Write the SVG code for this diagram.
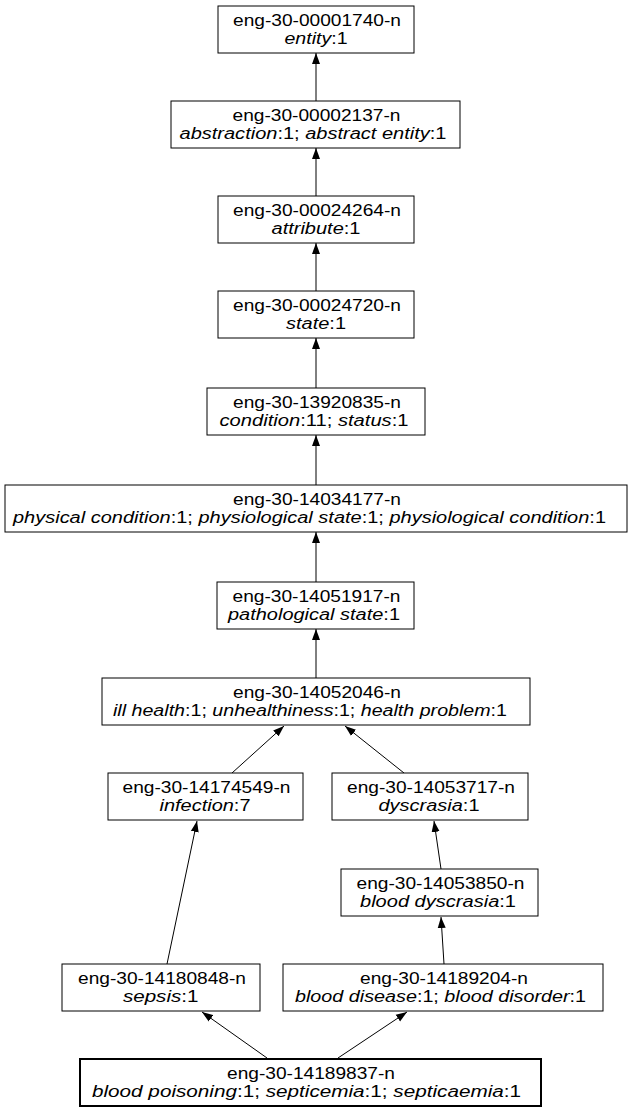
<svg xmlns="http://www.w3.org/2000/svg" width="632" height="1115" viewBox="0 0 632 1115">
<defs>
<style>
.b{fill:#fff;stroke:#000;stroke-width:1}
.bb{fill:#fff;stroke:#000;stroke-width:2}
text{font-family:"Liberation Sans",Arial,sans-serif;font-size:16px;fill:#000;text-anchor:middle}
.i{font-style:italic}
.e{stroke:#000;stroke-width:1;fill:none;marker-end:url(#ah)}
</style>
<marker id="ah" markerUnits="userSpaceOnUse" markerWidth="11" markerHeight="9" refX="11" refY="4" orient="auto" viewBox="0 0 11 8">
<path d="M0,0 L11,4 L0,8 z" fill="#000"/>
</marker>
</defs>
<rect width="632" height="1115" fill="#fff"/>
<g id="edges">
<line class="e" x1="316" y1="101" x2="316" y2="53"/>
<line class="e" x1="316" y1="196" x2="316" y2="148"/>
<line class="e" x1="316" y1="291" x2="316" y2="243"/>
<line class="e" x1="316" y1="388" x2="316" y2="338"/>
<line class="e" x1="316" y1="485" x2="316" y2="435"/>
<line class="e" x1="316" y1="582" x2="316" y2="532"/>
<line class="e" x1="316" y1="678" x2="316" y2="629"/>
<line class="e" x1="232" y1="773" x2="284" y2="726"/>
<line class="e" x1="404" y1="773" x2="345" y2="726"/>
<line class="e" x1="441" y1="869" x2="434" y2="821"/>
<line class="e" x1="167" y1="964" x2="197" y2="821"/>
<line class="e" x1="444" y1="964" x2="441" y2="917"/>
<line class="e" x1="267" y1="1058" x2="202" y2="1012"/>
<line class="e" x1="338" y1="1058" x2="407" y2="1012"/>
</g>
<g id="n1"><rect class="b" x="218" y="6" width="196" height="47"/><text x="317" y="25.5" textLength="168" lengthAdjust="spacingAndGlyphs">eng-30-00001740-n</text><text x="316" y="43.5" textLength="63" lengthAdjust="spacingAndGlyphs"><tspan class="i">entity</tspan>:1</text></g>
<g id="n2"><rect class="b" x="171" y="101" width="289" height="47"/><text x="316.5" y="120.5" textLength="168" lengthAdjust="spacingAndGlyphs">eng-30-00002137-n</text><text x="313" y="138.5" textLength="267" lengthAdjust="spacingAndGlyphs"><tspan class="i">abstraction</tspan>:1; <tspan class="i">abstract entity</tspan>:1</text></g>
<g id="n3"><rect class="b" x="218" y="196" width="196" height="47"/><text x="317" y="215.5" textLength="168" lengthAdjust="spacingAndGlyphs">eng-30-00024264-n</text><text x="316" y="233.5" textLength="89" lengthAdjust="spacingAndGlyphs"><tspan class="i">attribute</tspan>:1</text></g>
<g id="n4"><rect class="b" x="218" y="291" width="196" height="47"/><text x="317" y="310.5" textLength="168" lengthAdjust="spacingAndGlyphs">eng-30-00024720-n</text><text x="316" y="328.5" textLength="60" lengthAdjust="spacingAndGlyphs"><tspan class="i">state</tspan>:1</text></g>
<g id="n5"><rect class="b" x="207" y="388" width="218" height="47"/><text x="317" y="407.5" textLength="168" lengthAdjust="spacingAndGlyphs">eng-30-13920835-n</text><text x="314" y="425.5" textLength="189" lengthAdjust="spacingAndGlyphs"><tspan class="i">condition</tspan>:11; <tspan class="i">status</tspan>:1</text></g>
<g id="n6"><rect class="b" x="5" y="485" width="622" height="47"/><text x="317" y="504.5" textLength="168" lengthAdjust="spacingAndGlyphs">eng-30-14034177-n</text><text x="309.5" y="522.5" textLength="593" lengthAdjust="spacingAndGlyphs"><tspan class="i">physical condition</tspan>:1; <tspan class="i">physiological state</tspan>:1; <tspan class="i">physiological condition</tspan>:1</text></g>
<g id="n7"><rect class="b" x="217" y="582" width="197" height="47"/><text x="316.5" y="601.5" textLength="168" lengthAdjust="spacingAndGlyphs">eng-30-14051917-n</text><text x="314" y="619.5" textLength="172" lengthAdjust="spacingAndGlyphs"><tspan class="i">pathological state</tspan>:1</text></g>
<g id="n8"><rect class="b" x="102" y="678" width="428" height="47"/><text x="317" y="697.5" textLength="168" lengthAdjust="spacingAndGlyphs">eng-30-14052046-n</text><text x="310" y="715.5" textLength="394" lengthAdjust="spacingAndGlyphs"><tspan class="i">ill health</tspan>:1; <tspan class="i">unhealthiness</tspan>:1; <tspan class="i">health problem</tspan>:1</text></g>
<g id="n9"><rect class="b" x="108" y="773" width="195" height="47"/><text x="206.5" y="792.5" textLength="168" lengthAdjust="spacingAndGlyphs">eng-30-14174549-n</text><text x="205" y="810.5" textLength="91" lengthAdjust="spacingAndGlyphs"><tspan class="i">infection</tspan>:7</text></g>
<g id="n10"><rect class="b" x="332" y="773" width="196" height="47"/><text x="431" y="792.5" textLength="168" lengthAdjust="spacingAndGlyphs">eng-30-14053717-n</text><text x="429" y="810.5" textLength="101" lengthAdjust="spacingAndGlyphs"><tspan class="i">dyscrasia</tspan>:1</text></g>
<g id="n11"><rect class="b" x="341" y="869" width="197" height="47"/><text x="440.5" y="888.5" textLength="168" lengthAdjust="spacingAndGlyphs">eng-30-14053850-n</text><text x="438" y="906.5" textLength="156" lengthAdjust="spacingAndGlyphs"><tspan class="i">blood dyscrasia</tspan>:1</text></g>
<g id="n12"><rect class="b" x="62" y="964" width="198" height="47"/><text x="162" y="983.5" textLength="168" lengthAdjust="spacingAndGlyphs">eng-30-14180848-n</text><text x="160.7" y="1001.5" textLength="75.6" lengthAdjust="spacingAndGlyphs"><tspan class="i">sepsis</tspan>:1</text></g>
<g id="n13"><rect class="b" x="283" y="964" width="320" height="47"/><text x="444" y="983.5" textLength="168" lengthAdjust="spacingAndGlyphs">eng-30-14189204-n</text><text x="440.5" y="1001.5" textLength="291" lengthAdjust="spacingAndGlyphs"><tspan class="i">blood disease</tspan>:1; <tspan class="i">blood disorder</tspan>:1</text></g>
<g id="n14"><rect class="bb" x="80" y="1059" width="461" height="47"/><text x="311" y="1078.5" textLength="168" lengthAdjust="spacingAndGlyphs">eng-30-14189837-n</text><text x="306.5" y="1096.5" textLength="429" lengthAdjust="spacingAndGlyphs"><tspan class="i">blood poisoning</tspan>:1; <tspan class="i">septicemia</tspan>:1; <tspan class="i">septicaemia</tspan>:1</text></g>
</svg>
